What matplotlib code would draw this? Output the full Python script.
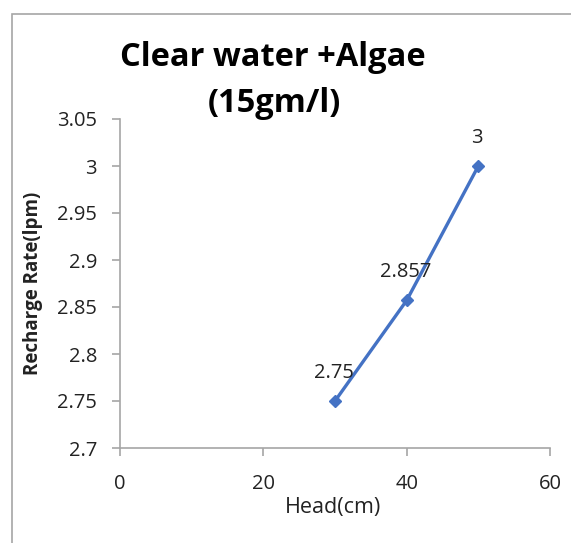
import matplotlib
matplotlib.use("Agg")
import matplotlib.pyplot as plt
from matplotlib.patches import Rectangle

head = [30, 40, 50]
rate = [2.75, 2.857, 3.0]
labels = ["2.75", "2.857", "3"]
xticks = [0, 20, 40, 60]
yticks = [2.7, 2.75, 2.8, 2.85, 2.9, 2.95, 3.0, 3.05]
ytick_labels = ["2.7", "2.75", "2.8", "2.85", "2.9", "2.95", "3", "3.05"]

plt.rcParams['font.family'] = ['Open Sans', 'DejaVu Sans']

W, H = 571, 543
fig = plt.figure(figsize=(W/100, H/100), dpi=100)
fig.patches.append(Rectangle((12/W, -0.1), 1.2, 1.1 - 14/H, transform=fig.transFigure,
                             fill=False, edgecolor='#a6a6a6', linewidth=1.2))

ax = fig.add_axes([120/W, 1 - 448/H, 430/W, 329/H])
ax.plot(head, rate, color='#4472C4', linewidth=2.4, marker='D', markersize=6.5,
        markerfacecolor='#4472C4', markeredgecolor='#4472C4')
for x, y, t in zip(head, rate, labels):
    ax.annotate(t, (x, y), xytext=(-1, 20.5), textcoords='offset points', ha='center',
                va='center', fontsize=14.5, color='#222222')

ax.set_xlim(0, 60)
ax.set_ylim(2.7, 3.05)
ax.set_xticks(xticks)
ax.set_yticks(yticks)
ax.set_yticklabels(ytick_labels)
for s in ['top', 'right']:
    ax.spines[s].set_visible(False)
for s in ['left', 'bottom']:
    ax.spines[s].set_color('#a6a6a6')
    ax.spines[s].set_linewidth(1.2)
ax.tick_params(axis='both', direction='out', length=5.5, width=1.2, color='#a6a6a6',
               labelsize=14.5, labelcolor='#222222')
ax.tick_params(axis='x', pad=13)
ax.tick_params(axis='y', pad=11)
ax.set_xlabel('Head(cm)', fontsize=15.5, color='#222222')
ax.set_ylabel('Recharge Rate(lpm)', fontsize=13.5, fontweight='bold', color='#222222')
ax.xaxis.label.set_va('center')
ax.xaxis.set_label_coords(0.495, (448 - 508) / 329)
ax.yaxis.label.set_va('center')
ax.yaxis.set_label_coords((33 - 120) / 430, 0.5 - (283 - 283.5) / 329)

fig.text(273/W, 1 - 58/H, 'Clear water +Algae', ha='center', va='center',
         fontsize=23.5, fontweight='bold', color='black')
fig.text(274/W, 1 - 103/H, '(15gm/l)', ha='center', va='center',
         fontsize=23.5, fontweight='bold', color='black')

fig.savefig('out.png', dpi=100)
